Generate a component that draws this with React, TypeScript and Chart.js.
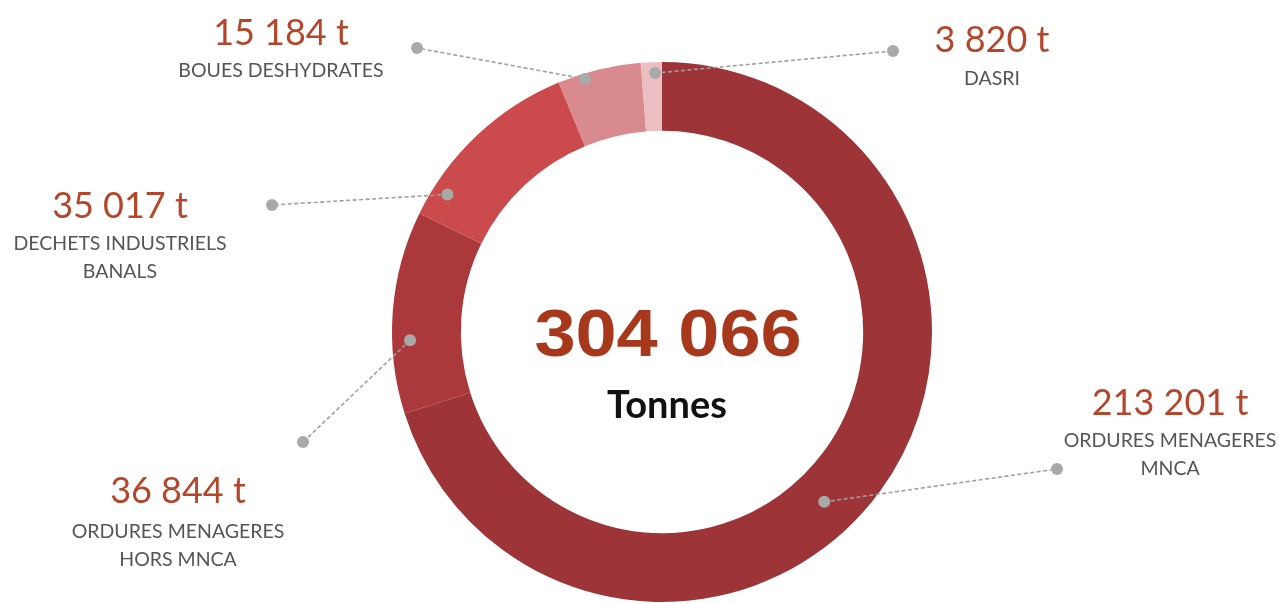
import React, { useEffect, useRef } from "react";
import { Chart, registerables } from "chart.js";

Chart.register(...registerables);

// ---- data ----
const categories = [
  ["ORDURES MENAGERES", "MNCA"],
  ["ORDURES MENAGERES", "HORS MNCA"],
  ["DECHETS INDUSTRIELS", "BANALS"],
  ["BOUES DESHYDRATES"],
  ["DASRI"],
];
const tonnages = [213201, 36844, 35017, 15184, 3820];
const centerUnit = "Tonnes";

// ---- styles ----
const sliceColors = ["#9D3437", "#AB383B", "#CB4A4C", "#D98A8E", "#EBBFC2"];
// anchor of leader dot inside each slice: fraction along slice, fraction across ring
const anchors = [
  { a: 0.54, r: 0.49 },
  { a: 0.36, r: 0.74 },
  { a: 0.16, r: 0.78 },
  { a: 0.31, r: 0.92 },
  { a: 0.66, r: 0.84 },
];
// label layout: outer dot, label centre x, value baseline, first sub-line baseline
const labelLayout = [
  { dx: 1057, dy: 469, tx: 1170, vy: 415, sy: 447 },
  { dx: 303, dy: 442, tx: 178, vy: 503, sy: 538 },
  { dx: 272, dy: 205, tx: 120, vy: 218, sy: 250 },
  { dx: 417, dy: 48, tx: 281, vy: 45, sy: 77 },
  { dx: 893, dy: 51, tx: 992, vy: 52, sy: 85 },
];

const fmt = (n: number) => n.toString().replace(/\B(?=(\d{3})+(?!\d))/g, " ");

const overlayPlugin = {
  id: "overlay",
  afterDatasetsDraw(chart: any) {
    const ctx = chart.ctx as CanvasRenderingContext2D;
    const meta = chart.getDatasetMeta(0);
    const arcs = meta.data;
    if (!arcs.length) return;
    const cx = arcs[0].x;
    const cy = arcs[0].y;

    arcs.forEach((arc: any, i: number) => {
      const p = arc.getProps(["startAngle", "endAngle", "innerRadius", "outerRadius"], true);
      const ang = p.startAngle + anchors[i].a * (p.endAngle - p.startAngle);
      const rad = p.innerRadius + anchors[i].r * (p.outerRadius - p.innerRadius);
      const x0 = cx + rad * Math.cos(ang);
      const y0 = cy + rad * Math.sin(ang);
      const L = labelLayout[i];
      ctx.save();
      ctx.strokeStyle = "#A0A0A0";
      ctx.lineWidth = 1.6;
      ctx.setLineDash([4, 2.5]);
      ctx.beginPath();
      ctx.moveTo(x0, y0);
      ctx.lineTo(L.dx, L.dy);
      ctx.stroke();
      ctx.setLineDash([]);
      ctx.fillStyle = "#A9A9A9";
      ctx.beginPath();
      ctx.arc(x0, y0, 6, 0, Math.PI * 2);
      ctx.fill();
      ctx.beginPath();
      ctx.arc(L.dx, L.dy, 6, 0, Math.PI * 2);
      ctx.fill();
      ctx.restore();

      ctx.save();
      ctx.textAlign = "center";
      ctx.textBaseline = "alphabetic";
      ctx.fillStyle = "#B4472B";
      ctx.font = "36px Lato";
      ctx.fillText(fmt(tonnages[i]) + " t", L.tx, L.vy);
      ctx.fillStyle = "#555555";
      ctx.font = "19.5px Lato";
      categories[i].forEach((line, j) => {
        ctx.fillText(line, L.tx, L.sy + j * 28);
      });
      ctx.restore();
    });

    const total = tonnages.reduce((s, v) => s + v, 0);
    ctx.save();
    ctx.textAlign = "center";
    ctx.textBaseline = "alphabetic";
    ctx.fillStyle = "#A8381C";
    ctx.font = "bold 66px 'Liberation Sans', Arial";
    ctx.translate(668, 356);
    ctx.scale(1.12, 1);
    ctx.fillText(fmt(total), 0, 0);
    ctx.restore();
    ctx.save();
    ctx.textAlign = "center";
    ctx.fillStyle = "#111111";
    ctx.font = "bold 38px Lato";
    ctx.fillText(centerUnit, 667, 418);
    ctx.restore();
  },
};

export default function App() {
  const ref = useRef<HTMLCanvasElement | null>(null);
  useEffect(() => {
    if (!ref.current) return;
    const chart = new Chart(ref.current, {
      type: "doughnut",
      data: {
        labels: categories.map((c) => c.join(" ")),
        datasets: [
          {
            data: tonnages,
            backgroundColor: sliceColors,
            borderWidth: 0,
            hoverOffset: 0,
          },
        ],
      },
      options: {
        responsive: false,
        animation: false,
        cutout: "74.5%",
        layout: { padding: { left: 392, right: 347, top: 62, bottom: 1 } },
        plugins: {
          legend: { display: false },
          tooltip: { enabled: false },
        },
      },
      plugins: [overlayPlugin],
    });
    return () => chart.destroy();
  }, []);
  return (
    <div style={{ position: "absolute", left: 0, top: 0, width: 1279, height: 603, background: "#fff" }}>
      <canvas ref={ref} width={1279} height={603} style={{ width: 1279, height: 603 }} />
    </div>
  );
}
